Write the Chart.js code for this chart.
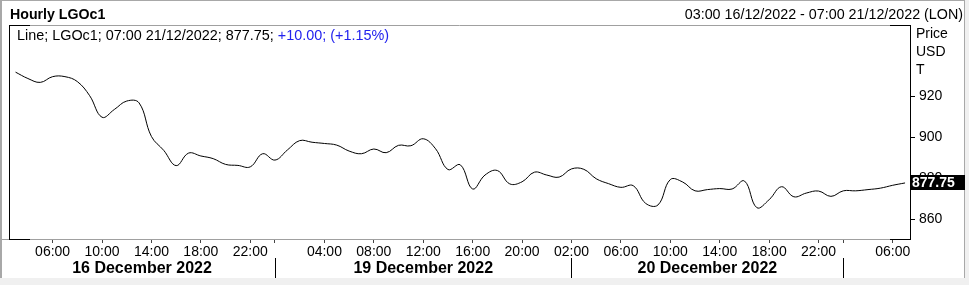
<!DOCTYPE html>
<html>
<head>
<meta charset="utf-8">
<script src="https://cdn.jsdelivr.net/npm/chart.js@4/dist/chart.umd.min.js"></script>
<style>
  html, body { margin: 0; padding: 0; background: #f0f0f0; }
  #wrap { position: relative; width: 969px; height: 285px; overflow: hidden; font-family: "Liberation Sans", Arial, sans-serif; }
  #panel { position: absolute; left: 0; top: 0; width: 965px; height: 278px; background: #fff; border-left: 2px solid #a8a8a8; border-right: 1px solid #a8a8a8; border-top: 1px solid #a8a8a8; box-sizing: border-box; }
  canvas { position: absolute; left: 0; top: 0; }
  .t { position: absolute; white-space: nowrap; font-size: 14px; line-height: 16px; color: #000; }
</style>
</head>
<body>
<div id="wrap">
  <div id="panel"></div>
  <canvas id="c" width="969" height="285"></canvas>
  <div class="t" id="title" style="left:10px; top:6px; font-weight:bold; font-size:14.2px;"></div>
  <div class="t" id="range" style="right:6px; top:6px; font-size:14.3px;"></div>
  <div class="t" id="legend" style="left:17px; top:27px; font-size:14.4px;"></div>
  <div class="t" id="u1" style="left:916px; top:25px;"></div>
  <div class="t" id="u2" style="left:916px; top:43px;"></div>
  <div class="t" id="u3" style="left:916px; top:61px;"></div>
</div>
<script>
// ---- data ----
const chartTitle = "Hourly LGOc1";
const rangeText = "03:00 16/12/2022 - 07:00 21/12/2022 (LON)";
const legendMain = "Line; LGOc1; 07:00 21/12/2022; 877.75; ";
const legendChange = "+10.00; (+1.15%)";
const unitLabels = ["Price", "USD", "T"];

const timeLabels = [
  "03:00","04:00","05:00","06:00","07:00","08:00","09:00","10:00","11:00","12:00",
  "13:00","14:00","15:00","16:00","17:00","18:00","19:00","20:00","21:00","22:00",
  "23:00","00:00","01:00","02:00","03:00","04:00","05:00","06:00","07:00","08:00",
  "09:00","10:00","11:00","12:00","13:00","14:00","15:00","16:00","17:00","18:00",
  "19:00","20:00","21:00","22:00",
  "01:00","02:00","03:00","04:00","05:00","06:00","07:00","08:00","09:00","10:00",
  "11:00","12:00","13:00","14:00","15:00","16:00","17:00","18:00","19:00","20:00",
  "21:00","22:00",
  "01:00","02:00","03:00","04:00","05:00","06:00","07:00"
];

const prices = [
  931.8, 928.7, 926.8, 929.6, 929.6, 927.2, 920.3, 909.8, 913.6, 917.7,
  916.8, 900.4, 893.6, 886.2, 892.3, 890.9, 889.6, 886.8, 886.3, 885.6,
  892.0, 888.9, 893.8, 898.4, 897.6, 897.0, 896.2, 893.3, 892.0, 894.3,
  892.5, 896.1, 895.9, 899.3, 894.4, 884.3, 886.6, 874.8, 881.6, 883.8,
  877.3, 878.3, 883.0, 881.6, 880.6, 884.6, 884.4, 879.8, 877.4, 875.6,
  876.4, 867.8, 867.0, 879.4, 878.2, 873.9, 874.5, 875.0, 874.8, 878.7,
  865.7, 869.6, 875.9, 871.0, 872.8, 873.8, 871.2, 873.9, 873.9, 874.5,
  875.2, 876.6, 877.75
];

const xTickIndex = [3, 7, 11, 15, 19, 21, 25, 29, 33, 37, 41, 45, 49, 53, 57, 61, 65, 67, 71];
const unlabeledTicks = [21, 67];
const daySeparators = [21, 45, 67];
const dayLabels = ["16 December 2022", "19 December 2022", "20 December 2022", ""];
const yTicks = [860, 880, 900, 920];
const lastValueText = "877.75";

// ---- text ----
document.getElementById('title').textContent = chartTitle;
document.getElementById('range').textContent = rangeText;
const lg = document.getElementById('legend');
lg.appendChild(document.createTextNode(legendMain));
const sp = document.createElement('span');
sp.style.color = '#2222ee';
sp.textContent = legendChange;
lg.appendChild(sp);
['u1','u2','u3'].forEach((id, i) => document.getElementById(id).textContent = unitLabels[i]);

Chart.defaults.font.family = '"Liberation Sans", Arial, sans-serif';
Chart.defaults.color = '#000';

const decor = {
  id: 'decor',
  afterDraw(chart) {
    const { ctx, chartArea: a, scales: { x, y } } = chart;
    ctx.save();
    ctx.lineWidth = 1;
    ctx.strokeStyle = '#a0a0a0';
    ctx.beginPath();
    ctx.moveTo(a.left, a.top + 0.5); ctx.lineTo(a.right, a.top + 0.5);
    ctx.moveTo(2, a.bottom + 0.5); ctx.lineTo(a.left, a.bottom + 0.5);
    ctx.stroke();
    ctx.strokeStyle = '#000';
    ctx.beginPath();
    ctx.moveTo(a.left + 0.5, a.top); ctx.lineTo(a.left + 0.5, a.bottom + 1);
    ctx.moveTo(a.left, a.top + 0.5); ctx.lineTo(a.left + 21, a.top + 0.5);
    ctx.moveTo(a.left, a.bottom + 0.5); ctx.lineTo(a.left + 21, a.bottom + 0.5);
    ctx.moveTo(a.right - 20, a.top + 0.5); ctx.lineTo(a.right + 1, a.top + 0.5);
    ctx.moveTo(a.right - 20, a.bottom + 0.5); ctx.lineTo(a.right + 1, a.bottom + 0.5);
    ctx.stroke();
    ctx.beginPath();
    daySeparators.forEach(i => {
      const px = Math.round(x.getPixelForValue(i)) + 0.5;
      ctx.moveTo(px, 258); ctx.lineTo(px, 278);
    });
    ctx.stroke();
    ctx.font = 'bold 16px "Liberation Sans", Arial, sans-serif';
    ctx.fillStyle = '#000';
    ctx.textAlign = 'center';
    ctx.textBaseline = 'middle';
    const bounds = [a.left].concat(daySeparators.map(i => x.getPixelForValue(i))).concat([a.right]);
    dayLabels.forEach((t, k) => {
      if (!t) return;
      ctx.fillText(t, (bounds[k] + bounds[k + 1]) / 2, 268.5);
    });
    const last = prices[prices.length - 1];
    const py = y.getPixelForValue(last);
    ctx.fillStyle = '#000';
    ctx.fillRect(a.right, Math.round(py - 7.5), 55, 15);
    ctx.fillStyle = '#fff';
    ctx.textAlign = 'left';
    ctx.font = 'bold 14px "Liberation Sans", Arial, sans-serif';
    ctx.fillText(lastValueText, a.right + 2, py + 0.5);
    ctx.restore();
  }
};

new Chart(document.getElementById('c'), {
  type: 'line',
  data: {
    datasets: [{
      data: prices.map((v, i) => ({ x: i, y: v })),
      borderColor: '#000',
      borderWidth: 1,
      pointRadius: 0,
      tension: 0.4,
      fill: false
    }]
  },
  options: {
    responsive: false,
    animation: false,
    events: [],
    layout: { padding: { left: 9, top: 25, right: 0, bottom: 0 } },
    plugins: { legend: { display: false }, tooltip: { enabled: false } },
    scales: {
      x: {
        type: 'linear',
        min: -0.53,
        max: 72.4,
        afterBuildTicks: s => { s.ticks = xTickIndex.map(v => ({ value: v })); },
        afterFit: s => { s.height = 46; },
        ticks: {
          autoSkip: false,
          maxRotation: 0,
          padding: 1,
          font: { size: 14 },
          color: '#000',
          callback: v => unlabeledTicks.includes(v) ? '' : timeLabels[v]
        },
        grid: { drawOnChartArea: false, drawTicks: true, tickLength: 4, color: '#444' },
        border: { display: true, color: '#a0a0a0' }
      },
      y: {
        position: 'right',
        min: 850.4,
        max: 954.8,
        afterBuildTicks: s => { s.ticks = yTicks.map(v => ({ value: v })); },
        afterFit: s => { s.width = 59; },
        ticks: { padding: 4, font: { size: 14 }, color: '#000', callback: v => String(v) },
        grid: { drawOnChartArea: false, drawTicks: true, tickLength: 5, color: '#000' },
        border: { display: true, color: '#000' }
      }
    }
  },
  plugins: [decor]
});
</script>
</body>
</html>
